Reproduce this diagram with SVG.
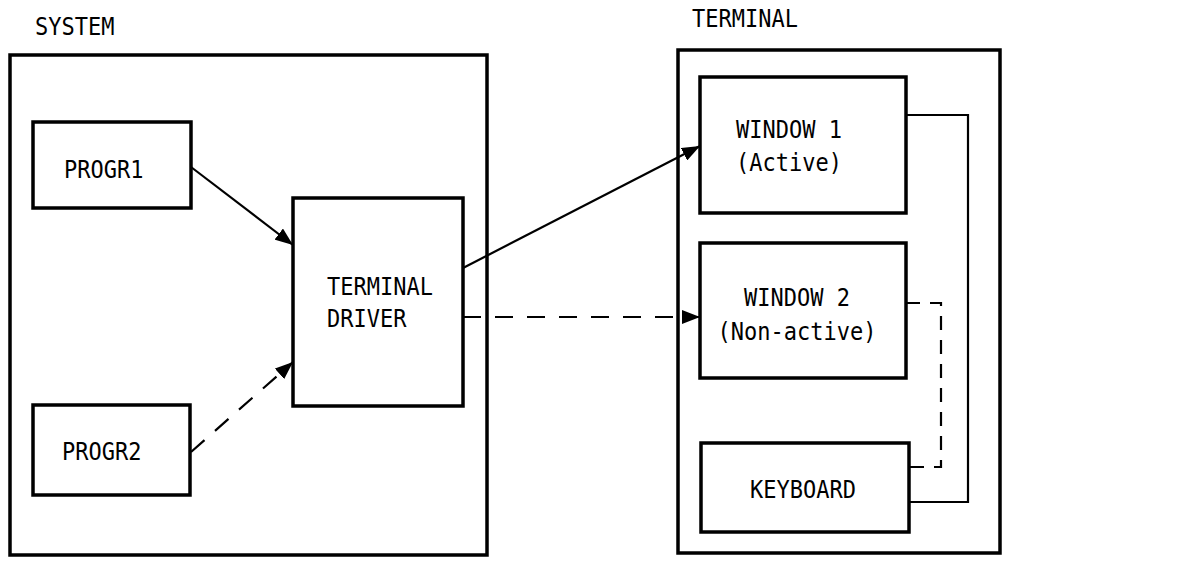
<svg xmlns="http://www.w3.org/2000/svg" width="1183" height="561" viewBox="0 0 1183 561">
  <style>
    .frame { fill: none; stroke: #000; stroke-width: 3.5; }
    .box { fill: #fff; stroke: #000; stroke-width: 3.5; }
    .lbl { font-family: "DejaVu Sans Mono", "Liberation Mono", monospace; font-size: 22px; fill: #000; }
    .mid { text-anchor: middle; }
    .wire { fill: none; stroke: #000; stroke-width: 2.2; }
    .dash { stroke-dasharray: 18 14; }
  </style>
  <defs>
    <marker id="arrow" viewBox="0 0 18 14" refX="18" refY="7" markerWidth="18" markerHeight="14" markerUnits="userSpaceOnUse" orient="auto">
      <path d="M0,0 L18,7 L0,14 Z" fill="#000"/>
    </marker>
  </defs>
  <rect width="1183" height="561" fill="#fff"/>

  <!-- system side -->
  <g id="system">
    <text class="lbl" transform="translate(35,35) scale(1,1.1)">SYSTEM</text>
    <rect class="frame" x="10" y="55" width="477" height="500"/>
  </g>
  <g id="progr1">
    <rect class="box" x="33" y="122" width="158" height="86"/>
    <text class="lbl" transform="translate(64,178) scale(1,1.1)">PROGR1</text>
  </g>
  <g id="progr2">
    <rect class="box" x="33" y="405" width="157" height="90"/>
    <text class="lbl" transform="translate(62,460) scale(1,1.1)">PROGR2</text>
  </g>
  <g id="terminal-driver">
    <rect class="box" x="293" y="198" width="170" height="208"/>
    <text class="lbl" transform="translate(327,295) scale(1,1.1)">TERMINAL</text>
    <text class="lbl" transform="translate(327,327) scale(1,1.1)">DRIVER</text>
  </g>

  <!-- terminal side -->
  <g id="terminal">
    <text class="lbl" transform="translate(692,27) scale(1,1.1)">TERMINAL</text>
    <rect class="frame" x="678" y="50" width="322" height="503"/>
  </g>
  <g id="window1">
    <rect class="box" x="700" y="77" width="206" height="136"/>
    <text class="lbl mid" transform="translate(789,138) scale(1,1.1)">WINDOW 1</text>
    <text class="lbl mid" transform="translate(789,171) scale(1,1.1)">(Active)</text>
  </g>
  <g id="window2">
    <rect class="box" x="700" y="243" width="206" height="135"/>
    <text class="lbl mid" transform="translate(797,306) scale(1,1.1)">WINDOW 2</text>
    <text class="lbl mid" transform="translate(797,340) scale(1,1.1)">(Non-active)</text>
  </g>
  <g id="keyboard">
    <rect class="box" x="701" y="443" width="208" height="89"/>
    <text class="lbl mid" transform="translate(803,498) scale(1,1.1)">KEYBOARD</text>
  </g>

  <!-- connectors -->
  <g id="connectors">
    <line class="wire" x1="191" y1="167" x2="293" y2="245" marker-end="url(#arrow)"/>
    <line class="wire dash" x1="191" y1="452" x2="293" y2="362" marker-end="url(#arrow)"/>
    <line class="wire" x1="463" y1="268" x2="700" y2="146" marker-end="url(#arrow)"/>
    <line class="wire dash" x1="463" y1="317" x2="700" y2="317" marker-end="url(#arrow)"/>
    <polyline class="wire" points="906,115 968,115 968,502 909,502"/>
    <polyline class="wire dash" points="906,303 941,303 941,467 909,467" style="stroke-dasharray: 14 10"/>
  </g>
</svg>
